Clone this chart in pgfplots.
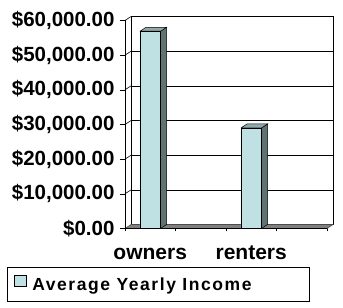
\documentclass[border=0pt]{standalone}
\usepackage{pgfplots}
\pgfplotsset{compat=1.18}
\usepackage{fontspec}
\setmainfont{Liberation Sans}
\definecolor{barfront}{HTML}{BFE1E4}
\definecolor{barside}{HTML}{5F7373}
\definecolor{bartop}{HTML}{8FA9AA}
\definecolor{floorc}{HTML}{808080}
\begin{document}
\begin{tikzpicture}[x=1pt,y=1pt]
\useasboundingbox (0,0) rectangle (343,308);
\begin{axis}[
  at={(125pt,79.5pt)}, anchor=south west,
  scale only axis, width=208pt, height=212pt,
  xmin=-0.5, xmax=3.62, ymin=0, ymax=61150,
  axis line style={draw=none},
  clip=false, scaled y ticks=false,
  ytick={0,10000,20000,30000,40000,50000,60000},
  yticklabels={{\$0.00},{\$10,000.00},{\$20,000.00},{\$30,000.00},{\$40,000.00},{\$50,000.00},{\$60,000.00}},
  ytick pos=left, tick align=outside, major tick length=5pt,
  ytick style={black, line width=0.6pt},
  yticklabel style={font=\fontsize{20.5}{22}\selectfont\bfseries, xshift=-2pt},
  xtick={0,2}, xticklabels={owners,renters},
  xtick pos=bottom,
  xtick style={draw=none},
  xticklabel style={font=\fontsize{21}{22}\selectfont\bfseries, anchor=base, yshift=-26pt},
  extra x ticks={-0.5,0.5,1.5,2.5,3.5},
  extra x tick labels={},
  extra x tick style={xtick style={black, line width=0.6pt, draw=black}, major tick length=3pt},
  legend style={at={(-118pt,-38.8pt)}, anchor=north west, draw=black, line width=0.6pt,
    font=\fontsize{17.5}{19}\selectfont\bfseries\addfontfeature{LetterSpace=9}, inner xsep=2pt, inner ysep=7pt},
  legend image code/.code={\path[draw=none, fill=none] (0pt,0pt) -- (21pt,0pt);
    \draw[#1, draw=black, line width=0.5pt] (5pt,-1pt) rectangle (17pt,10pt);},
]
% back wall
\addplot[forget plot, draw=black, line width=0.6pt, fill=white] coordinates {(-0.38,1150) (3.62,1150) (3.62,61150) (-0.38,61150) (-0.38,1150)};
% gridlines on back wall
\addplot[forget plot, black, line width=0.6pt] coordinates {(-0.38,11150) (3.62,11150)};
\addplot[forget plot, black, line width=0.6pt] coordinates {(-0.38,21150) (3.62,21150)};
\addplot[forget plot, black, line width=0.6pt] coordinates {(-0.38,31150) (3.62,31150)};
\addplot[forget plot, black, line width=0.6pt] coordinates {(-0.38,41150) (3.62,41150)};
\addplot[forget plot, black, line width=0.6pt] coordinates {(-0.38,51150) (3.62,51150)};
% left wall slants
\addplot[forget plot, black, line width=0.6pt] coordinates {(-0.5,10000) (-0.38,11150)};
\addplot[forget plot, black, line width=0.6pt] coordinates {(-0.5,20000) (-0.38,21150)};
\addplot[forget plot, black, line width=0.6pt] coordinates {(-0.5,30000) (-0.38,31150)};
\addplot[forget plot, black, line width=0.6pt] coordinates {(-0.5,40000) (-0.38,41150)};
\addplot[forget plot, black, line width=0.6pt] coordinates {(-0.5,50000) (-0.38,51150)};
\addplot[forget plot, black, line width=0.6pt] coordinates {(-0.5,60000) (-0.38,61150)};
% floor
\addplot[forget plot, draw=black!70, line width=0.6pt, fill=floorc] coordinates {(-0.5,0) (3.5,0) (3.62,1150) (-0.38,1150) (-0.5,0)};
% front axes
\addplot[forget plot, black, line width=0.6pt] coordinates {(-0.5,0) (-0.5,60000)};
\addplot[forget plot, black, line width=0.6pt] coordinates {(-0.5,0) (3.5,0)};
% bar sides and tops: owners 56900, renters 29000
\addplot[forget plot, draw=black, line width=0.5pt, fill=barside] coordinates {(0.203,0) (0.323,1150) (0.323,58050) (0.203,56900) (0.203,0)};
\addplot[forget plot, draw=black, line width=0.5pt, fill=bartop] coordinates {(-0.203,56900) (0.203,56900) (0.323,58050) (-0.083,58050) (-0.203,56900)};
\addplot[forget plot, draw=black, line width=0.5pt, fill=barside] coordinates {(2.203,0) (2.323,1150) (2.323,30150) (2.203,29000) (2.203,0)};
\addplot[forget plot, draw=black, line width=0.5pt, fill=bartop] coordinates {(1.797,29000) (2.203,29000) (2.323,30150) (1.917,30150) (1.797,29000)};
% bar fronts
\addplot[ybar, bar width=0.406, bar shift=0pt, draw=black, line width=0.5pt, fill=barfront] coordinates {(0,56900) (2,29000)};
\addlegendentry{Average Yearly Income\rule{54pt}{0pt}}
\end{axis}
\end{tikzpicture}
\end{document}
